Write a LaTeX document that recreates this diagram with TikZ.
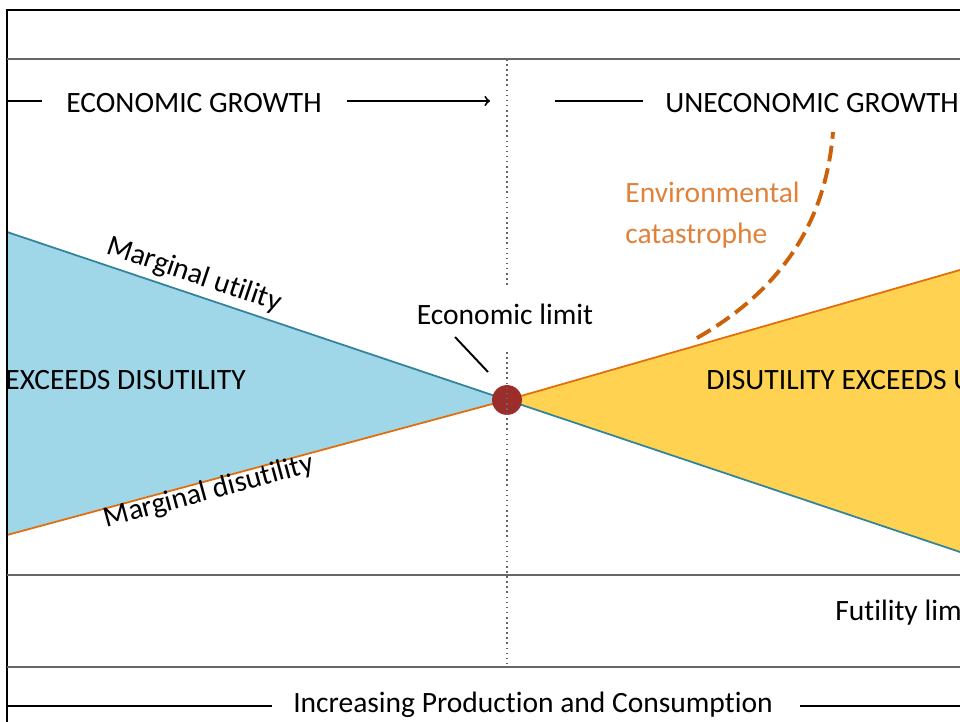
\documentclass[tikz,border=0pt]{standalone}
\usepackage{fontspec}
\setmainfont{Carlito}[Ligatures=NoCommon]
\usetikzlibrary{positioning}
\definecolor{utilblue}{HTML}{A0D7E8}
\definecolor{utilline}{HTML}{31849B}
\definecolor{disorange}{HTML}{E46C0A}
\definecolor{cattext}{HTML}{E0823C}
\definecolor{disyellow}{HTML}{FFD351}
\definecolor{limitred}{HTML}{9B2D2A}
\tikzstyle{txt} = [inner sep=0pt, font=\fontsize{16.8}{23}\selectfont]
\tikzstyle{rule} = [draw=black!60, line width=1.1pt]
\tikzstyle{bar} = [draw=black, line width=1.1pt]
\tikzstyle{arrow} = [bar,->]

\begin{document}
\begin{tikzpicture}[x=0.02cm, y=-0.02cm]
\useasboundingbox (0,0) rectangle (960,722);
\clip (0,0) rectangle (960,722);
\fill[white] (0,0) rectangle (960,722);

% end points of the two curves
\coordinate (uleft) at (7,232);
\coordinate (dleft) at (7,535);
\coordinate (uright) at (960,552);
\coordinate (dright) at (960,270);
\coordinate (cross) at (507,400);

% shaded areas
\fill[utilblue] (uleft) -- (cross) -- (dleft) -- cycle;
\fill[disyellow] (dright) -- (cross) -- (uright) -- cycle;
\draw[utilline, line width=1pt] (uleft) -- (cross) -- (uright);
\draw[disorange, line width=1pt] (dleft) -- (cross) -- (dright);
\node (limit) [circle, fill=limitred, minimum size=17pt, inner sep=0pt] at (cross) {};

% frame and rules
\draw[bar] (7,722) -- (7,10) -- (960,10);
\draw[rule] (7,59) -- (960,59);
\draw[rule] (7,575) -- (960,575);
\draw[rule] (7,667) -- (960,667);
\draw[black!60, dotted, line width=0.9pt] (507,59) -- (507,288);
\draw[black!60, dotted, line width=0.9pt] (507,352) -- (507,667);

% header
\node (eg) [txt, anchor=west] at (66,103) {ECONOMIC GROWTH};
\coordinate (egstart) at (7,101);
\coordinate (egfrom) at (347,101);
\coordinate (egto) at (490,101);
\draw[bar] (egstart) -- (42,101);
\draw[arrow] (egfrom) -- (egto);
\node (ueg) [txt, anchor=west] at (665,103) {UNECONOMIC GROWTH};
\coordinate (uegstart) at (555,101);
\draw[bar] (uegstart) -- (643,101);

% curve labels
\node (mu) [txt, rotate=-18.6] at (194,275) {Marginal utility};
\node (md) [txt, rotate=15.1] at (209,492) {Marginal disutility};
\node (left) [txt, anchor=west] at (5,380) {EXCEEDS DISUTILITY};
\node (right) [txt, anchor=west] at (706,380) {DISUTILITY EXCEEDS U};

% economic limit
\node (ellbl) [txt] at (505,314) {Economic limit};
\coordinate (ptrfrom) at (455,337);
\coordinate (ptrto) at (488,372);
\draw[bar] (ptrfrom) -- (ptrto);

% catastrophe
\node (env) [txt, text=cattext, align=left, anchor=north west] at (625,182) {Environmental\\catastrophe};
\coordinate (catlow) at (697,338);
\coordinate (cattop) at (833,132);
\draw[disorange!90!black, line width=2.2pt, dash pattern=on 9pt off 4pt]
  (catlow) .. controls (772,295) and (825,232) .. (cattop);

% bottom rows
\node (fut) [txt, anchor=west] at (835,613) {Futility lim};
\node (ipc) [txt] at (533,705) {Increasing Production and Consumption};
\coordinate (ipcleft) at (7,706);
\coordinate (ipcright) at (960,706);
\draw[bar] (ipcleft) -- (272,706);
\draw[bar] (800,706) -- (ipcright);
\end{tikzpicture}
\end{document}
